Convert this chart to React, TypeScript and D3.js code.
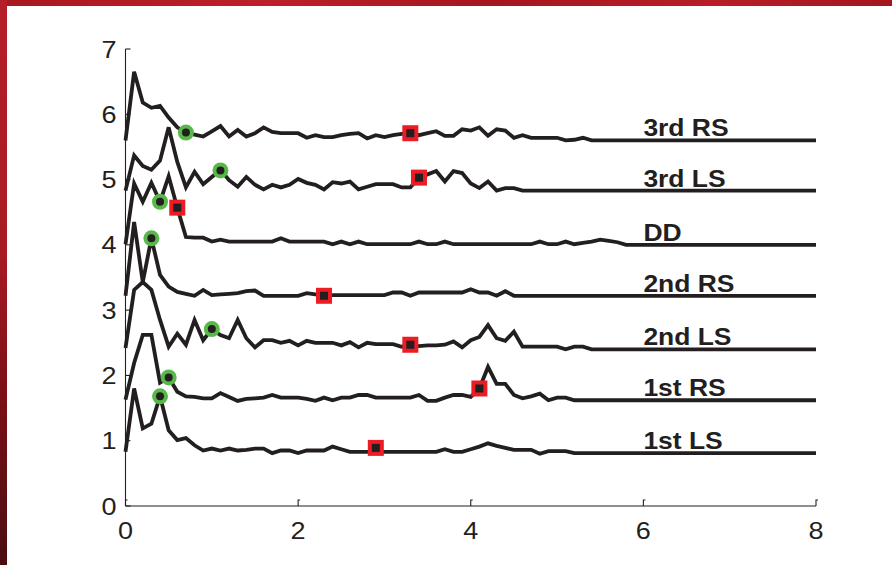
import * as d3 from "d3";

// samples every 0.1 on x, each trace then stays flat until x = 8
const step = 0.1;
const xEnd = 8;

const rs3 = [5.60, 6.65, 6.18, 6.10, 6.13, 5.95, 5.80, 5.72, 5.69, 5.66,
  5.74, 5.82, 5.66, 5.76, 5.66, 5.71, 5.80, 5.73, 5.71, 5.71,
  5.71, 5.64, 5.68, 5.65, 5.65, 5.68, 5.70, 5.71, 5.63, 5.68,
  5.65, 5.68, 5.70, 5.71, 5.68, 5.71, 5.74, 5.67, 5.67, 5.77,
  5.75, 5.80, 5.67, 5.77, 5.75, 5.64, 5.68, 5.64, 5.64, 5.64,
  5.64, 5.60, 5.61, 5.64, 5.60];
const ls3 = [4.83, 5.37, 5.21, 5.15, 5.29, 5.80, 5.27, 4.88, 5.12, 4.93,
  5.04, 5.15, 4.99, 4.89, 5.04, 4.92, 4.85, 4.92, 4.88, 4.92,
  5.01, 4.95, 4.92, 4.85, 4.96, 4.94, 4.97, 4.85, 4.89, 4.93,
  4.93, 4.93, 4.88, 4.88, 5.03, 5.08, 5.13, 4.97, 5.13, 5.10,
  4.94, 4.87, 4.97, 4.83, 4.87, 4.87, 4.83];
const dd = [4.01, 4.94, 4.66, 4.95, 4.66, 5.05, 4.57, 4.12, 4.11, 4.11,
  4.05, 4.08, 4.05, 4.05, 4.05, 4.05, 4.05, 4.05, 4.10, 4.05,
  4.05, 4.05, 4.05, 4.05, 4.01, 4.05, 4.01, 4.05, 4.01, 4.01,
  4.01, 4.01, 4.01, 4.01, 4.05, 4.01, 4.01, 4.05, 4.01, 4.01,
  4.01, 4.01, 4.01, 4.01, 4.01, 4.01, 4.01, 4.01, 4.05, 4.01,
  4.01, 4.05, 4.01, 4.03, 4.05, 4.08, 4.06, 4.04, 4.00];
const rs2 = [3.22, 4.35, 3.43, 4.10, 3.54, 3.36, 3.28, 3.25, 3.22, 3.31,
  3.23, 3.24, 3.25, 3.26, 3.29, 3.30, 3.22, 3.22, 3.22, 3.22,
  3.22, 3.26, 3.24, 3.22, 3.23, 3.23, 3.23, 3.23, 3.23, 3.23,
  3.23, 3.27, 3.27, 3.22, 3.27, 3.27, 3.27, 3.27, 3.27, 3.27,
  3.32, 3.27, 3.27, 3.22, 3.29, 3.22];
const ls2 = [2.42, 3.31, 3.43, 3.31, 2.85, 2.44, 2.64, 2.47, 2.85, 2.54,
  2.71, 2.62, 2.57, 2.85, 2.57, 2.43, 2.54, 2.54, 2.50, 2.53,
  2.46, 2.53, 2.50, 2.50, 2.50, 2.46, 2.51, 2.43, 2.50, 2.48,
  2.48, 2.48, 2.44, 2.47, 2.45, 2.46, 2.46, 2.47, 2.52, 2.43,
  2.54, 2.59, 2.77, 2.57, 2.53, 2.67, 2.44, 2.44, 2.44, 2.44,
  2.44, 2.40, 2.44, 2.44, 2.40];
const rs1 = [1.63, 2.19, 2.62, 2.62, 1.89, 1.97, 1.75, 1.68, 1.67, 1.65,
  1.65, 1.73, 1.67, 1.61, 1.64, 1.65, 1.66, 1.70, 1.66, 1.66,
  1.66, 1.64, 1.61, 1.66, 1.62, 1.66, 1.66, 1.70, 1.70, 1.66,
  1.66, 1.66, 1.66, 1.66, 1.70, 1.61, 1.61, 1.66, 1.70, 1.70,
  1.67, 1.80, 2.13, 1.87, 1.87, 1.70, 1.65, 1.68, 1.72, 1.62,
  1.66, 1.66, 1.62];
const ls1 = [0.83, 1.80, 1.19, 1.26, 1.68, 1.16, 1.01, 1.04, 0.93, 0.85,
  0.88, 0.85, 0.88, 0.85, 0.86, 0.88, 0.88, 0.81, 0.85, 0.85,
  0.81, 0.85, 0.85, 0.85, 0.91, 0.87, 0.83, 0.83, 0.83, 0.83,
  0.83, 0.83, 0.83, 0.83, 0.83, 0.83, 0.83, 0.87, 0.83, 0.83,
  0.87, 0.91, 0.96, 0.92, 0.89, 0.86, 0.86, 0.86, 0.80, 0.84,
  0.84, 0.84, 0.81];

const seriesNames = ["3rd RS", "3rd LS", "DD", "2nd RS", "2nd LS", "1st RS", "1st LS"];
const seriesValues = [rs3, ls3, dd, rs2, ls2, rs1, ls1];

// onset (green) and offset (red) points, same order as the series
const greenMarks = [[0.7, 5.72], [1.1, 5.14], [0.4, 4.66], [0.3, 4.10], [1.0, 2.71], [0.5, 1.97], [0.4, 1.68]];
const redMarks = [[3.3, 5.71], [3.4, 5.03], [0.6, 4.57], [2.3, 3.22], [3.3, 2.47], [4.1, 1.80], [2.9, 0.89]];

const xTicks = [0, 2, 4, 6, 8];
const yTicks = [0, 1, 2, 3, 4, 5, 6, 7];
const labelX = 6;

const W = 892;
const H = 565;
const ink = "#231f20";
const font = "'Liberation Sans', Arial, Helvetica, sans-serif";

export default function App() {
  const x = d3.scaleLinear().domain([0, 8]).range([125.5, 816]);
  const y = d3.scaleLinear().domain([0, 7]).range([506, 49]);

  const line = d3.line<[number, number]>()
    .x(d => x(d[0]))
    .y(d => y(d[1]));

  const pts = (vals: number[]): [number, number][] => {
    const p: [number, number][] = vals.map((v, i) => [i * step, v]);
    p.push([xEnd, vals[vals.length - 1]]);
    return p;
  };

  return (
    <div style={{position: "absolute", left: 0, top: 0}}>
      <svg width={W} height={H} style={{display: "block"}}>
        <defs>
          <linearGradient id="sideRed" x1="0" y1="0" x2="0" y2="1">
            <stop offset="0" stopColor="#b51e28"/>
            <stop offset="0.45" stopColor="#a81b23"/>
            <stop offset="0.7" stopColor="#7a1016"/>
            <stop offset="1" stopColor="#4a0e10"/>
          </linearGradient>
          <linearGradient id="topRed" x1="0" y1="0" x2="1" y2="0">
            <stop offset="0" stopColor="#a9171f"/>
            <stop offset="0.3" stopColor="#bd1f2a"/>
            <stop offset="0.55" stopColor="#a5161e"/>
            <stop offset="0.8" stopColor="#b81d28"/>
            <stop offset="1" stopColor="#a3161e"/>
          </linearGradient>
        </defs>
        <rect width={W} height={H} fill="#fff"/>
        <rect x={0} y={0} width={W} height={6} fill="url(#topRed)"/>
        <rect x={0} y={0} width={7} height={H} fill="url(#sideRed)"/>

        {/* axes */}
        <g stroke={ink} strokeWidth={1.1} fill="none">
          <line x1={x(0)} x2={x(0)} y1={y(7)} y2={y(0)}/>
          <line x1={x(0)} x2={x(8)} y1={y(0)} y2={y(0)}/>
          {yTicks.map(t => (
            <line key={"yt" + t} x1={x(0)} x2={x(0) + 5} y1={y(t)} y2={y(t)}/>
          ))}
          {xTicks.map(t => (
            <path key={"xt" + t} d={`M${x(t)},${y(0)}V${y(0) - 6}h2`}/>
          ))}
        </g>
        <g fill={ink} fontFamily={font} fontSize={23.5}>
          {yTicks.map(t => (
            <text key={"yl" + t} textAnchor="end"
                  transform={`translate(${x(0) - 9},${y(t) + 8.5}) scale(1.15,1)`}>{t}</text>
          ))}
          {xTicks.map(t => (
            <text key={"xl" + t} textAnchor="middle"
                  transform={`translate(${x(t)},${538.5}) scale(1.15,1)`}>{t}</text>
          ))}
        </g>

        {/* traces */}
        <g fill="none" stroke={ink} strokeWidth={3.8} strokeLinejoin="miter" strokeMiterlimit={4}>
          {seriesValues.map((vals, i) => (
            <path key={seriesNames[i]} d={line(pts(vals)) || ""}/>
          ))}
        </g>

        {/* labels */}
        <g fill={ink} fontFamily={font} fontSize={23} fontWeight="bold">
          {seriesValues.map((vals, i) => (
            <text key={"lab" + i}
                  transform={`translate(${x(labelX)},${y(vals[vals.length - 1]) - 4}) scale(1.15,1)`}>
              {seriesNames[i]}
            </text>
          ))}
        </g>

        {/* markers */}
        {greenMarks.map((m, i) => (
          <g key={"g" + i}>
            <circle cx={x(m[0])} cy={y(m[1])} r={8} fill="#57b947"/>
            <circle cx={x(m[0])} cy={y(m[1])} r={4} fill={ink}/>
          </g>
        ))}
        {redMarks.map((m, i) => (
          <g key={"r" + i}>
            <rect x={x(m[0]) - 8} y={y(m[1]) - 8} width={16} height={16} fill="#ec1c24"/>
            <rect x={x(m[0]) - 4} y={y(m[1]) - 4} width={8} height={8} fill={ink}/>
          </g>
        ))}
      </svg>
    </div>
  );
}
